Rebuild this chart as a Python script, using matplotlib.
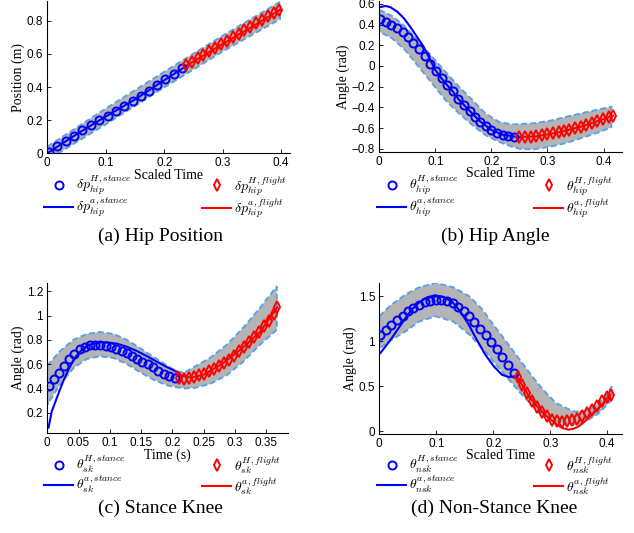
import numpy as np
import matplotlib
matplotlib.use("Agg")
import matplotlib.pyplot as plt
from matplotlib.ticker import FuncFormatter

plt.rcParams.update({
    "font.family": "Liberation Sans", "font.size": 8.5,
    "mathtext.fontset": "cm",
    "axes.linewidth": 0.8,
})
BLUE, RED, GRAY, EDGE = "#0000ff", "#ff0000", "#b4b4b4", "#5aa0ea"
W, H = 634, 533

# (a) hip position
A_T_HS = [0.003, 0.017, 0.032, 0.046, 0.060, 0.074, 0.089, 0.103, 0.117, 0.132, 0.146, 0.160,
          0.174, 0.188, 0.202, 0.216, 0.231]
A_HS = [0.006, 0.046, 0.076, 0.106, 0.141, 0.169, 0.201, 0.227, 0.255, 0.285, 0.314, 0.344,
        0.378, 0.412, 0.446, 0.478, 0.513]
A_T_AS = [0.0, 0.05, 0.10, 0.15, 0.20, 0.236]
A_AS = [0.0, 0.115, 0.222, 0.325, 0.441, 0.523]
A_T_HF = [0.237, 0.247, 0.257, 0.267, 0.277, 0.287, 0.297, 0.307, 0.317, 0.327, 0.337, 0.347,
          0.357, 0.367, 0.377, 0.387, 0.397]
A_HF = [0.533, 0.552, 0.574, 0.594, 0.617, 0.636, 0.659, 0.679, 0.700, 0.722, 0.741, 0.763,
        0.785, 0.804, 0.826, 0.846, 0.866]
A_T_AF = [0.236, 0.30, 0.35, 0.398]
A_AF = [0.525, 0.66, 0.764, 0.866]
A_T_BAND = [0.0, 0.1, 0.2, 0.3, 0.398]
A_HI = [0.04, 0.27, 0.492, 0.71, 0.914]
A_LO = [-0.04, 0.175, 0.398, 0.615, 0.81]

# (b) hip angle
B_T_HS = [0.002, 0.012, 0.021, 0.032, 0.042, 0.051, 0.061, 0.071, 0.081, 0.091, 0.101, 0.111,
          0.121, 0.131, 0.141, 0.151, 0.161, 0.170, 0.180, 0.191, 0.200, 0.210, 0.220, 0.230, 0.240]
B_HS = [0.454, 0.422, 0.396, 0.367, 0.328, 0.283, 0.225, 0.167, 0.097, 0.019, -0.048, -0.116,
        -0.180, -0.241, -0.316, -0.374, -0.434, -0.489, -0.537, -0.579, -0.618, -0.644, -0.663,
        -0.676, -0.682]
B_T_AS = [0.0, 0.011, 0.020, 0.032, 0.044, 0.055, 0.067, 0.079, 0.091, 0.100, 0.111, 0.121,
          0.131, 0.141, 0.161, 0.180, 0.200, 0.220, 0.245]
B_AS = [0.567, 0.579, 0.567, 0.524, 0.460, 0.379, 0.283, 0.186, 0.058, -0.039, -0.12, -0.185,
        -0.245, -0.318, -0.432, -0.535, -0.617, -0.662, -0.684]
B_T_HF = [0.250, 0.260, 0.270, 0.280, 0.290, 0.300, 0.310, 0.320, 0.330, 0.339, 0.349, 0.360,
          0.369, 0.379, 0.389, 0.399, 0.409, 0.417]
B_HF = [-0.688, -0.688, -0.685, -0.679, -0.669, -0.659, -0.650, -0.640, -0.627, -0.615, -0.601,
        -0.586, -0.569, -0.553, -0.534, -0.514, -0.495, -0.480]
B_T_AF = [0.245, 0.28, 0.32, 0.36, 0.40, 0.417]
B_AF = [-0.686, -0.679, -0.640, -0.586, -0.512, -0.480]
B_T_BAND = [0.0, 0.023, 0.046, 0.070, 0.094, 0.118, 0.142, 0.166, 0.189, 0.213, 0.237, 0.252,
            0.275, 0.305, 0.335, 0.365, 0.395, 0.414]
B_HI = [0.541, 0.483, 0.379, 0.235, 0.090, -0.055, -0.200, -0.328, -0.457, -0.538, -0.565,
        -0.560, -0.553, -0.528, -0.489, -0.451, -0.415, -0.393]
B_LO = [0.331, 0.267, 0.154, -0.006, -0.167, -0.328, -0.457, -0.569, -0.666, -0.731, -0.779,
        -0.801, -0.804, -0.779, -0.740, -0.688, -0.633, -0.591]

# (c) stance knee
C_T_HS = [0.002, 0.010, 0.018, 0.027, 0.035, 0.043, 0.052, 0.060, 0.068, 0.077, 0.085, 0.094,
          0.102, 0.110, 0.119, 0.127, 0.136, 0.144, 0.152, 0.161, 0.169, 0.177, 0.186, 0.194, 0.204]
C_HS = [0.422, 0.477, 0.526, 0.589, 0.644, 0.688, 0.723, 0.745, 0.759, 0.759, 0.759, 0.754,
        0.742, 0.726, 0.710, 0.690, 0.668, 0.647, 0.622, 0.600, 0.575, 0.548, 0.524, 0.504, 0.485]
C_T_AS = [0.002, 0.007, 0.015, 0.023, 0.031, 0.039, 0.047, 0.055, 0.066, 0.079, 0.095, 0.111,
          0.127, 0.143, 0.159, 0.175, 0.191, 0.207]
C_AS = [0.08, 0.211, 0.321, 0.430, 0.526, 0.608, 0.672, 0.718, 0.759, 0.778, 0.781, 0.770,
        0.745, 0.710, 0.668, 0.622, 0.578, 0.540]
C_T_HF = [0.210, 0.218, 0.226, 0.234, 0.242, 0.250, 0.258, 0.266, 0.274, 0.282, 0.290, 0.298,
          0.306, 0.314, 0.322, 0.330, 0.338, 0.346, 0.354, 0.362, 0.368]
C_HF = [0.488, 0.482, 0.488, 0.496, 0.510, 0.523, 0.543, 0.564, 0.586, 0.611, 0.638, 0.671,
        0.707, 0.742, 0.781, 0.822, 0.865, 0.912, 0.958, 1.013, 1.069]
C_T_AF = [0.205, 0.215, 0.230, 0.250, 0.280, 0.310, 0.340, 0.368]
C_AF = [0.538, 0.505, 0.490, 0.515, 0.605, 0.725, 0.865, 1.069]
C_T_BAND = [0.0, 0.02, 0.042, 0.063, 0.084, 0.106, 0.127, 0.148, 0.170, 0.191, 0.207, 0.22,
            0.234, 0.260, 0.287, 0.314, 0.340, 0.367]
C_HI = [0.589, 0.707, 0.802, 0.849, 0.866, 0.849, 0.802, 0.734, 0.660, 0.592, 0.54, 0.535,
        0.576, 0.652, 0.761, 0.904, 1.063, 1.241]
C_LO = [0.268, 0.433, 0.570, 0.644, 0.666, 0.652, 0.603, 0.537, 0.474, 0.428, 0.411, 0.402,
        0.405, 0.438, 0.510, 0.625, 0.761, 0.884]

# (d) non-stance knee
D_T_HS = [0.002, 0.012, 0.021, 0.031, 0.041, 0.050, 0.060, 0.070, 0.080, 0.089, 0.099, 0.109,
          0.119, 0.129, 0.138, 0.148, 0.158, 0.167, 0.177, 0.187, 0.196, 0.206, 0.216, 0.226, 0.236]
D_HS = [1.073, 1.129, 1.178, 1.233, 1.284, 1.333, 1.373, 1.407, 1.433, 1.448, 1.456, 1.456,
        1.444, 1.422, 1.385, 1.340, 1.281, 1.211, 1.140, 1.067, 0.989, 0.911, 0.826, 0.737, 0.651]
D_T_AS = [0.002, 0.011, 0.022, 0.034, 0.046, 0.057, 0.069, 0.084, 0.098, 0.113, 0.128, 0.142,
          0.157, 0.171, 0.186, 0.201, 0.215, 0.227, 0.239]
D_AS = [0.870, 0.944, 1.037, 1.148, 1.259, 1.351, 1.426, 1.489, 1.511, 1.492, 1.437, 1.333,
        1.185, 1.018, 0.851, 0.722, 0.629, 0.603, 0.611]
D_T_HF = [0.243, 0.250, 0.259, 0.268, 0.277, 0.285, 0.294, 0.303, 0.312, 0.321, 0.329, 0.338,
          0.347, 0.356, 0.364, 0.373, 0.382, 0.391, 0.400, 0.407]
D_HF = [0.603, 0.518, 0.426, 0.340, 0.267, 0.214, 0.167, 0.129, 0.111, 0.103, 0.111, 0.122,
        0.140, 0.167, 0.203, 0.240, 0.278, 0.333, 0.378, 0.407]
D_T_AF = [0.241, 0.250, 0.260, 0.270, 0.280, 0.295, 0.312, 0.321, 0.332, 0.341, 0.350, 0.361,
          0.373, 0.391, 0.405]
D_AF = [0.611, 0.52, 0.415, 0.33, 0.255, 0.16, 0.074, 0.037, 0.018, 0.029, 0.055, 0.111,
        0.185, 0.296, 0.407]
D_T_BAND = [0.0, 0.02, 0.046, 0.07, 0.099, 0.13, 0.158, 0.18, 0.2, 0.22, 0.24, 0.26, 0.28,
            0.295, 0.31, 0.34, 0.355, 0.37, 0.385, 0.40, 0.408]
D_HI = [1.28, 1.40, 1.52, 1.60, 1.648, 1.60, 1.50, 1.36, 1.185, 1.02, 0.851, 0.68, 0.518,
        0.41, 0.314, 0.222, 0.22, 0.24, 0.31, 0.407, 0.50]
D_LO = [0.92, 1.01, 1.11, 1.22, 1.278, 1.22, 1.074, 0.93, 0.778, 0.63, 0.481, 0.34, 0.22,
        0.16, 0.11, 0.074, 0.09, 0.14, 0.20, 0.296, 0.351]

A_XT = [0, 0.1, 0.2, 0.3, 0.4]
A_YT = [0, 0.2, 0.4, 0.6, 0.8]
B_YT = [-0.8, -0.6, -0.4, -0.2, 0, 0.2, 0.4, 0.6]
C_XT = [0, 0.05, 0.1, 0.15, 0.2, 0.25, 0.3, 0.35]
C_YT = [0.2, 0.4, 0.6, 0.8, 1, 1.2]
D_YT = [0, 0.5, 1, 1.5]

fmt = FuncFormatter(lambda v, _: f"{v:g}".replace("-", "\u2212"))


def panel(rect, band, hs, as_, hf, af, xlim, ylim, xt, yt, xlabel, sym, sub, leg, caption, cap_x):
    l, t, r, b = rect
    ax = fig.add_axes([l / W, 1 - b / H, (r - l) / W, (b - t) / H])
    bt, hi, lo = band
    ax.fill(np.r_[bt, bt[::-1]], np.r_[hi, lo[::-1]], fc=GRAY, ec=EDGE, ls=(0, (3, 1.6)), lw=1.4,
            zorder=1)
    l2, = ax.plot(as_[0], as_[1], color=BLUE, lw=1.5, zorder=2)
    l4, = ax.plot(af[0], af[1], color=RED, lw=1.5, zorder=2)
    l1, = ax.plot(hs[0], hs[1], "o", ls="none", mfc="none", mec=BLUE, mew=1.4, ms=5.8, zorder=3)
    l3, = ax.plot(hf[0], hf[1], "d", ls="none", mfc="none", mec=RED, mew=1.4, ms=5.8, zorder=3)
    ax.set_xlim(*xlim); ax.set_ylim(*ylim)
    ax.set_xticks(xt); ax.set_yticks(yt)
    ax.xaxis.set_major_formatter(fmt); ax.yaxis.set_major_formatter(fmt)
    ax.tick_params(direction="in", length=3, width=0.6, pad=3, labelsize=8.5)
    for s in ("top", "right"):
        ax.spines[s].set_visible(False)
    ax.set_xlabel(xlabel, family="Liberation Serif", fontsize=10, labelpad=-0.5)
    ax.set_ylabel("Position (m)" if sym == r"\delta p" else "Angle (rad)",
                  family="Liberation Serif", fontsize=10, labelpad=1)
    labs = [rf"${sym}_{{{sub}}}^{{H,stance}}$", rf"${sym}_{{{sub}}}^{{a,stance}}$",
            rf"${sym}_{{{sub}}}^{{H,flight}}$", rf"${sym}_{{{sub}}}^{{a,flight}}$"]
    for hnd, lb, x0 in [((l1, l2), labs[:2], leg[0]), ((l3, l4), labs[2:], leg[1])]:
        fig.legend(hnd, lb, loc="upper left", bbox_to_anchor=(x0 / W, 1 - leg[2] / H),
                   frameon=False, fontsize=10, borderpad=0, borderaxespad=0, handlelength=2.1,
                   handletextpad=0.2, labelspacing=-0.08)
    fig.text(cap_x / W, 1 - caption[1] / H, caption[0], family="Liberation Serif", fontsize=14,
             ha="center", va="center")
    return ax


fig = plt.figure(figsize=(W / 100, H / 100), dpi=100)
panel((47.3, 1, 290, 153.3), (A_T_BAND, A_HI, A_LO), (A_T_HS, A_HS), (A_T_AS, A_AS),
      (A_T_HF, A_HF), (A_T_AF, A_AF), (0, 0.415), (0, 0.919), A_XT, A_YT, "Scaled Time",
      r"\delta p", "hip", (44, 202, 174), ("(a) Hip Position", 236), 160)
panel((379.3, 1, 622, 151.7), (B_T_BAND, B_HI, B_LO), (B_T_HS, B_HS), (B_T_AS, B_AS),
      (B_T_HF, B_HF), (B_T_AF, B_AF), (0, 0.433), (-0.827, 0.627), A_XT, B_YT, "Scaled Time",
      r"\theta", "hip", (377, 534, 174), ("(b) Hip Angle", 236), 495)
panel((47.3, 282.7, 288, 433.3), (C_T_BAND, C_HI, C_LO), (C_T_HS, C_HS), (C_T_AS, C_AS),
      (C_T_HF, C_HF), (C_T_AF, C_AF), (0, 0.385), (0.033, 1.271), C_XT, C_YT, "Time (s)",
      r"\theta", "sk", (44, 202, 454), ("(c) Stance Knee", 508), 160)
panel((379.3, 282.7, 622, 434), (D_T_BAND, D_HI, D_LO), (D_T_HS, D_HS), (D_T_AS, D_AS),
      (D_T_HF, D_HF), (D_T_AF, D_AF), (0, 0.426), (-0.03, 1.651), A_XT, D_YT, "Scaled Time",
      r"\theta", "nsk", (377, 534, 454), ("(d) Non-Stance Knee", 508), 494)
fig.savefig("out.png", dpi=100)
